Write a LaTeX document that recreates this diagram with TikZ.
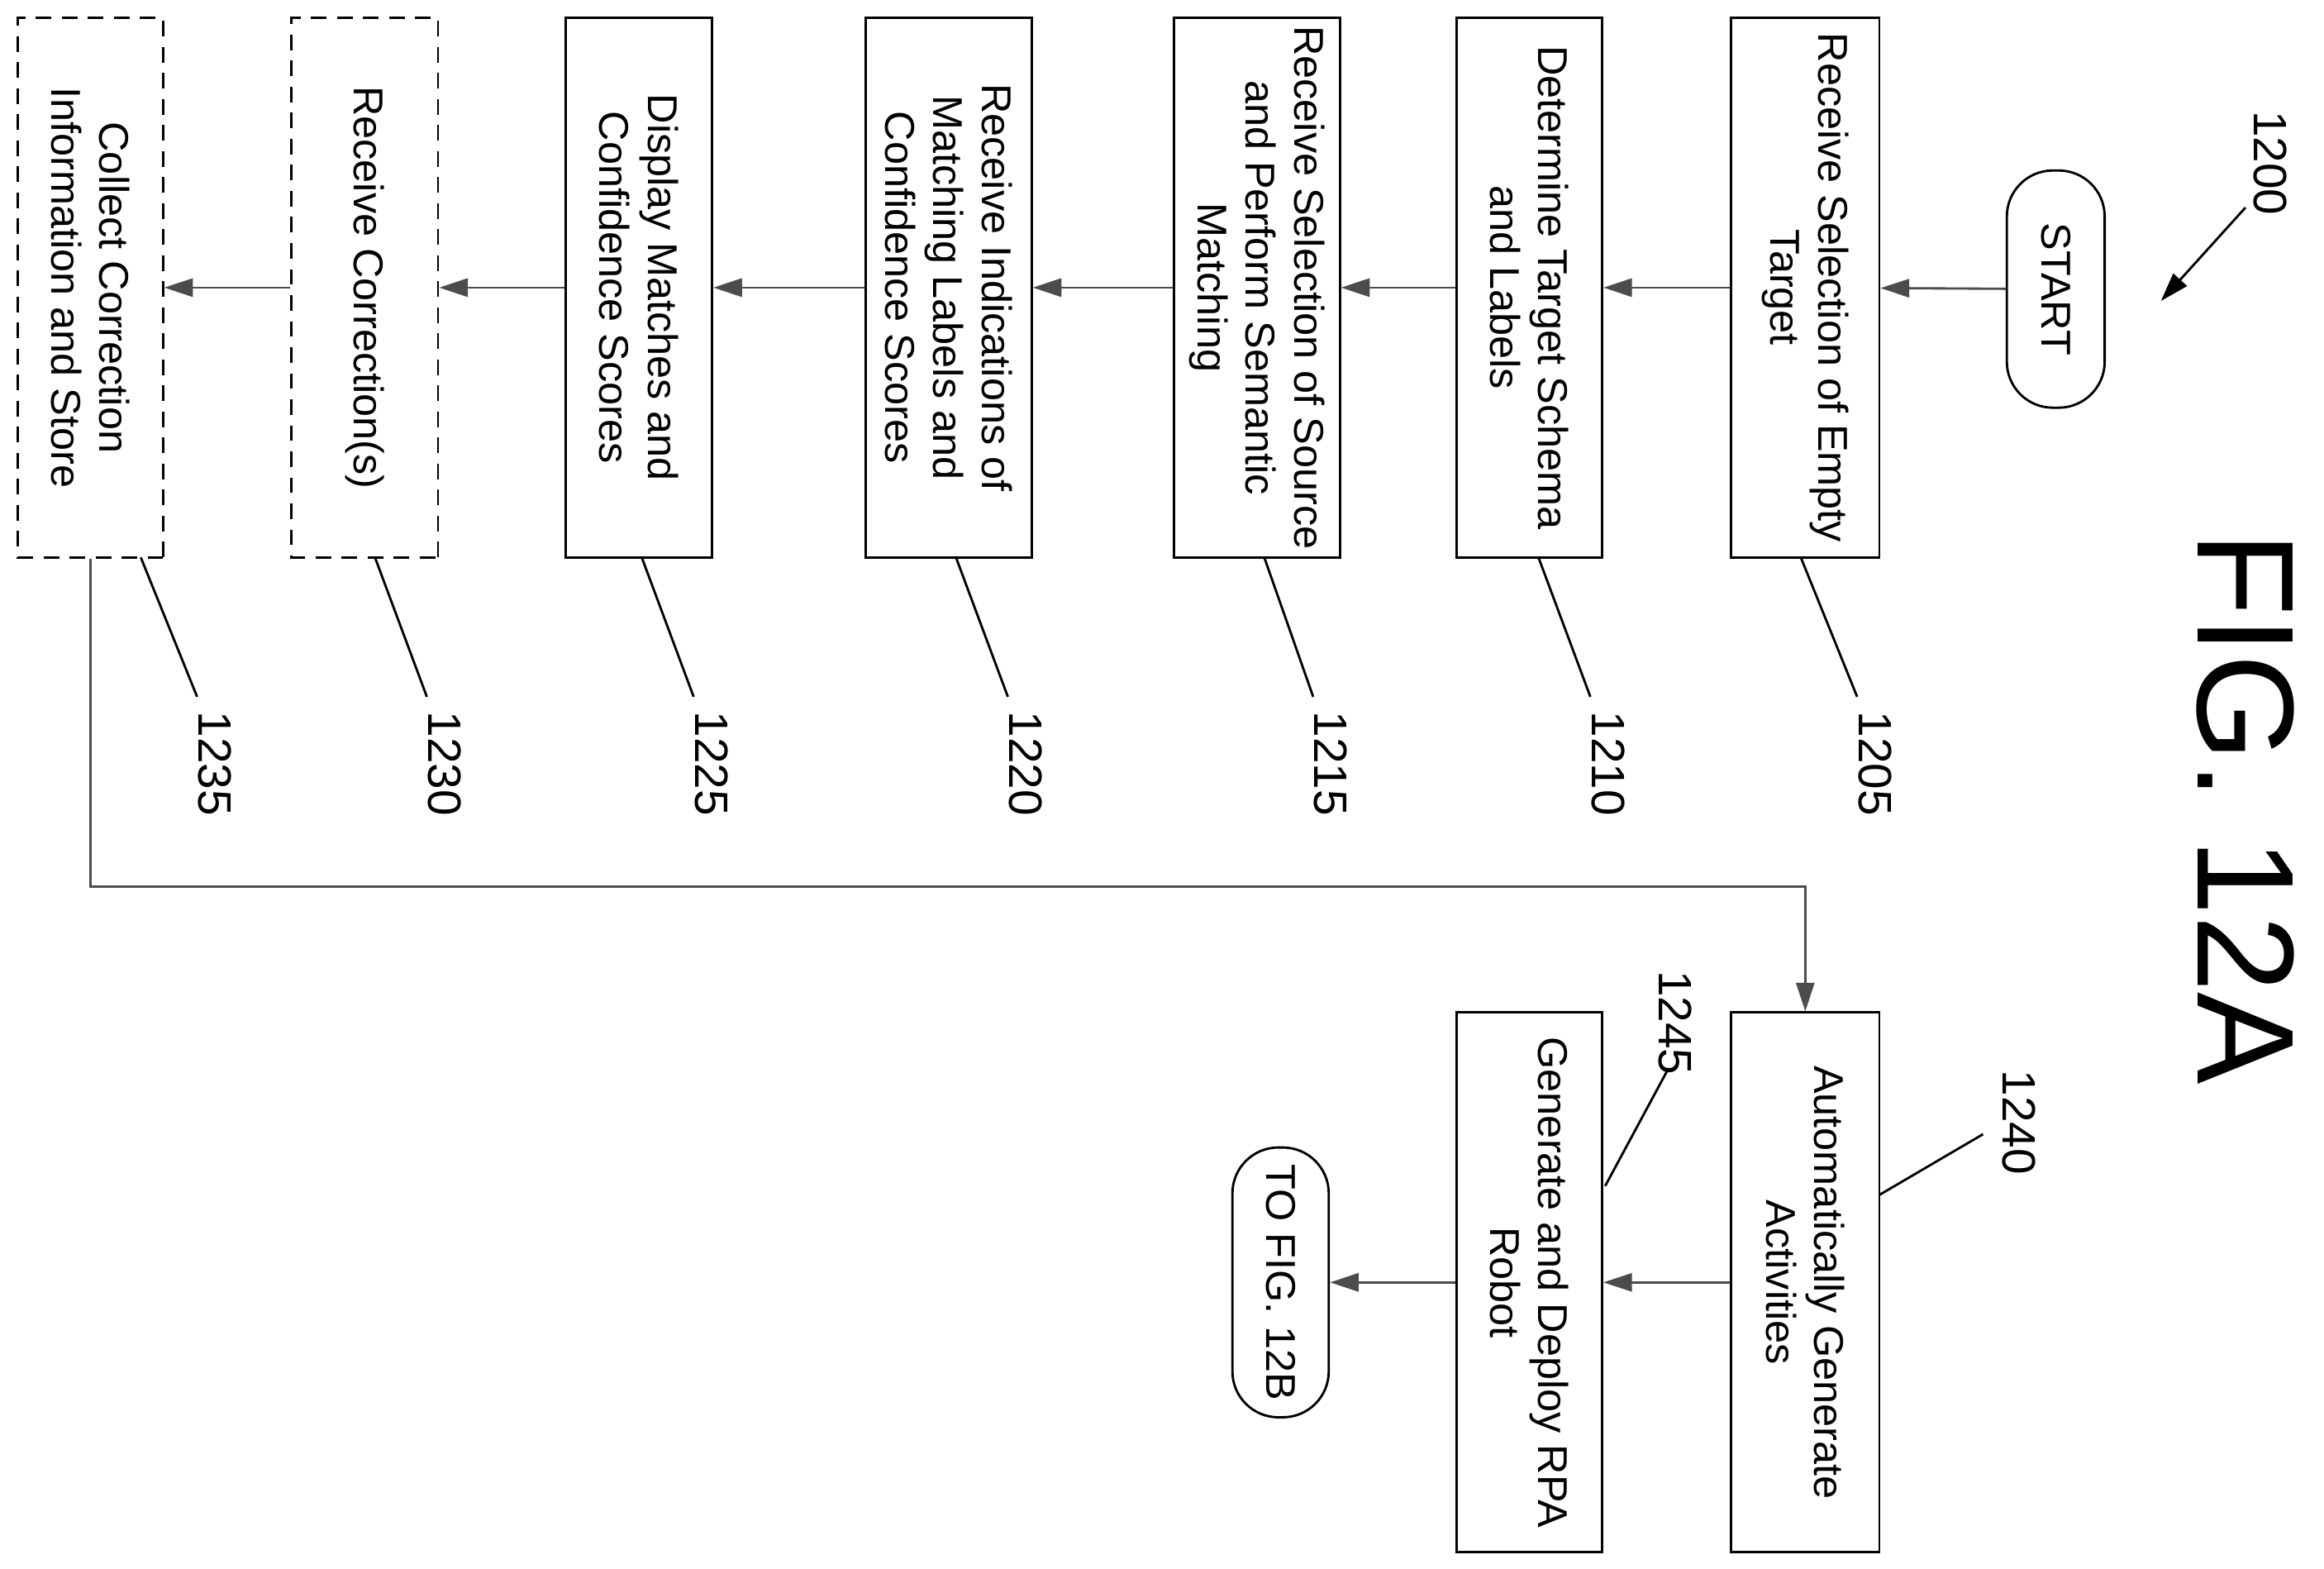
\documentclass[tikz,border=0pt]{standalone}
\usepackage{fontspec}
\setmainfont{Liberation Sans}
\usetikzlibrary{positioning}
\usetikzlibrary{arrows.meta}
\tikzset{
  box/.style={draw, rotate=-90, align=center, inner sep=2pt, font=\fontsize{16}{18.5}\selectfont},
  pill/.style={box, rounded corners=0.62cm},
  opt/.style={box, dash pattern=on 6pt off 4pt},
  flow/.style={-{Triangle[length=11pt,width=7pt]}, draw=black!70},
  ref/.style={rotate=-90, font=\fontsize{18}{20}\selectfont},
}
\begin{document}
\begin{tikzpicture}[x=0.02cm,y=-0.02cm,line width=0.9pt]
  \useasboundingbox (0,0) rectangle (1568,1058);

  % main column
  \node[pill, minimum width=160*0.02cm, minimum height=66*0.02cm] (start) at (1387,195) {START};
  \node[box, minimum width=364*0.02cm, minimum height=100*0.02cm] (s1205) at (1218,194) {Receive Selection of Empty\\Target};
  \node[box, minimum width=364*0.02cm, minimum height=98*0.02cm] (s1210) at (1032,194) {Determine Target Schema\\and Labels};
  \node[box, minimum width=364*0.02cm, minimum height=112*0.02cm] (s1215) at (848,194) {Receive Selection of Source\\and Perform Semantic\\Matching};
  \node[box, minimum width=364*0.02cm, minimum height=112*0.02cm] (s1220) at (640,194) {Receive Indications of\\Matching Labels and\\Confidence Scores};
  \node[box, minimum width=364*0.02cm, minimum height=99*0.02cm] (s1225) at (431,194) {Display Matches and\\Confidence Scores};
  \node[opt, minimum width=364*0.02cm, minimum height=99*0.02cm] (s1230) at (246,194) {Receive Correction(s)};
  \node[opt, minimum width=364*0.02cm, minimum height=98*0.02cm] (s1235) at (61,194) {Collect Correction\\Information and Store};

  % second column
  \node[box, minimum width=364*0.02cm, minimum height=100*0.02cm] (s1240) at (1218,865) {Automatically Generate\\Activities};
  \node[box, minimum width=364*0.02cm, minimum height=98*0.02cm] (s1245) at (1032,865) {Generate and Deploy RPA\\Robot};
  \node[pill, minimum width=182*0.02cm, minimum height=65*0.02cm] (next) at (864,865) {TO FIG. 12B};

  \foreach \a/\b in {start/s1205,s1205/s1210,s1210/s1215,s1215/s1220,s1220/s1225,s1225/s1230,s1230/s1235,s1240/s1245,s1245/next}
    \draw[flow] (\a) -- (\b);
  \coordinate (c1) at (61,598);
  \draw[flow] (s1235.east) -- (c1) -| (s1240.west);

  % reference numerals
  \foreach \n/\x/\lx in {1205/1215/1265,1210/1038/1085,1215/853/898,1220/645/692,1225/433/480,1230/253/300,1235/95/145} {
    \node[ref] (r\n) at (\lx,515) {\n};
    \draw (\x,376) -- (\lx-12,470);
  }
  \node[ref] (r1240) at (1362,757) {1240};
  \draw (1268,806) -- (1338,765);
  \node[ref] (r1245) at (1130,690) {1245};
  \draw (1083,800) -- (1125,722);
  \node[ref] (r1200) at (1532,110) {1200};
  \draw[flow, draw=black] (1515,140) -- (1458,203);

  \node[rotate=-90, font=\fontsize{53}{53}\selectfont] (fig) at (1515,545) {FIG. 12A};
\end{tikzpicture}
\end{document}
